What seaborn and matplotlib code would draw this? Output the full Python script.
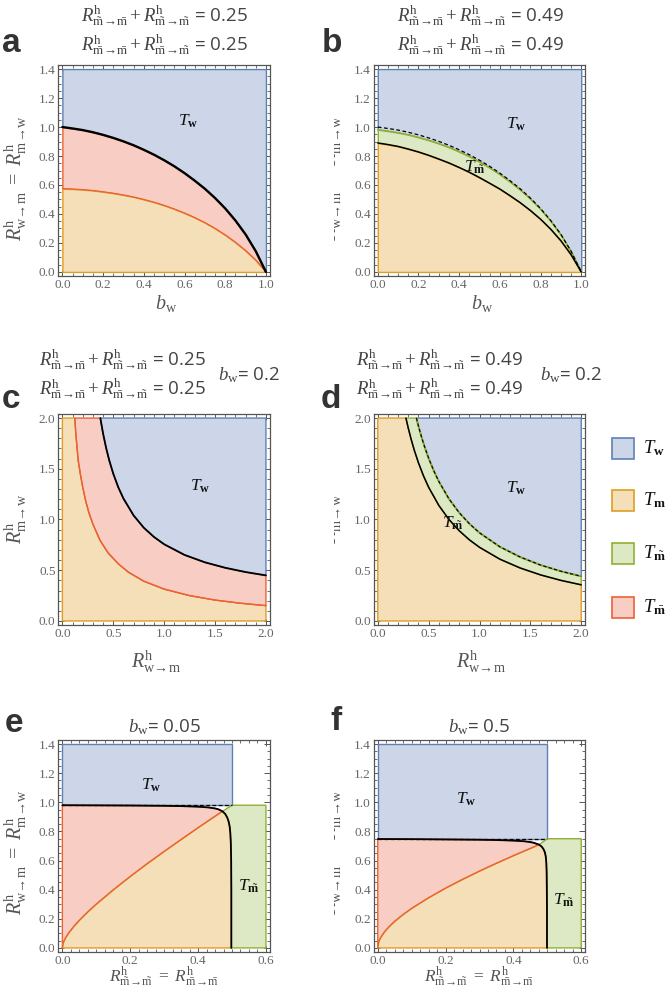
import matplotlib
matplotlib.use("Agg")
import matplotlib.pyplot as plt
import seaborn as sns
from matplotlib.patches import Rectangle
from matplotlib.ticker import MultipleLocator, FormatStrFormatter
from matplotlib.transforms import Bbox, TransformedBbox

sns.set_theme(style="ticks")
plt.rcParams["font.family"] = ["Liberation Serif", "DejaVu Serif"]
plt.rcParams["mathtext.fontset"] = "custom"
plt.rcParams["mathtext.rm"] = "Liberation Serif"
plt.rcParams["mathtext.it"] = "Liberation Serif:italic"
plt.rcParams["mathtext.bf"] = "Liberation Serif:bold"

# region colours (fill, edge)
BLUE_F, BLUE_E = "#cdd6e8", "#5e81b5"
ORANGE_F, ORANGE_E = "#f5dfb8", "#e19c24"
GREEN_F, GREEN_E = "#dde8c4", "#8fb032"
RED_F, RED_E = "#f8cdc3", "#eb6235"

# -----------------------------
# data
# -----------------------------
sum_ac = 0.25
sum_bd = 0.49
bw_cd = 0.2
bw_e = 0.05
bw_f = 0.5

# panel a / b : x = b_w
ab_x = [0.0, 0.05, 0.1, 0.15, 0.2, 0.25, 0.3, 0.35, 0.4, 0.45, 0.5,
        0.55, 0.6, 0.65, 0.7, 0.75, 0.8, 0.85, 0.9, 0.95, 1.0]
a_black = [1.0, 0.99, 0.979, 0.964, 0.946, 0.925, 0.901, 0.874, 0.843, 0.809, 0.771,
           0.729, 0.682, 0.630, 0.574, 0.510, 0.438, 0.355, 0.259, 0.143, 0.0]
a_red = [0.575, 0.572, 0.568, 0.562, 0.553, 0.543, 0.531, 0.517, 0.500, 0.481, 0.459,
         0.434, 0.406, 0.375, 0.340, 0.300, 0.255, 0.204, 0.147, 0.081, 0.0]
b_dash = [1.0, 0.99, 0.979, 0.964, 0.946, 0.925, 0.901, 0.874, 0.843, 0.809, 0.771,
          0.729, 0.682, 0.630, 0.574, 0.510, 0.438, 0.355, 0.259, 0.143, 0.0]
b_green = [0.982, 0.972, 0.961, 0.947, 0.929, 0.909, 0.886, 0.860, 0.830, 0.797, 0.760,
           0.719, 0.673, 0.622, 0.567, 0.504, 0.433, 0.351, 0.256, 0.141, 0.0]
b_black = [0.890, 0.879, 0.866, 0.848, 0.828, 0.805, 0.779, 0.752, 0.721, 0.688, 0.651,
           0.612, 0.572, 0.526, 0.478, 0.424, 0.364, 0.295, 0.215, 0.119, 0.0]

# panel c : x = R_w->m
c_black_x = [0.373, 0.4, 0.43, 0.46, 0.5, 0.55, 0.6, 0.7, 0.8, 0.9, 1.0, 1.2, 1.4, 1.6, 1.8, 2.0]
c_black_y = [2.0, 1.847, 1.705, 1.585, 1.452, 1.316, 1.207, 1.040, 0.919, 0.828, 0.756,
             0.651, 0.578, 0.524, 0.482, 0.449]
c_red_x = [0.123, 0.13, 0.14, 0.156, 0.18, 0.2, 0.23, 0.26, 0.3, 0.37, 0.45, 0.55, 0.65,
           0.8, 1.0, 1.25, 1.5, 1.75, 2.0]
c_red_y = [2.0, 1.88, 1.76, 1.58, 1.43, 1.32, 1.18, 1.07, 0.955, 0.795, 0.67, 0.563, 0.48,
           0.392, 0.314, 0.25, 0.206, 0.175, 0.151]

# panel d
d_dash_x = [0.38, 0.4, 0.43, 0.46, 0.5, 0.55, 0.6, 0.7, 0.8, 0.9, 1.0, 1.2, 1.4, 1.6, 1.8, 2.0]
d_dash_y = [2.0, 1.921, 1.814, 1.718, 1.604, 1.482, 1.376, 1.203, 1.068, 0.959, 0.869,
            0.731, 0.630, 0.551, 0.490, 0.440]
d_black_x = [0.277, 0.3, 0.33, 0.36, 0.4, 0.45, 0.5, 0.6, 0.7, 0.8, 0.9, 1.0, 1.2, 1.4, 1.6, 1.8, 2.0]
d_black_y = [2.0, 1.900, 1.784, 1.680, 1.559, 1.429, 1.318, 1.139, 1.000, 0.890, 0.800,
             0.726, 0.609, 0.522, 0.454, 0.400, 0.356]

# panel e / f : x = R_m~->m~ = R_m-->m-
ef_wall = 0.5
e_level = 0.98
f_level = 0.75
ef_red_x = [0.0, 0.0025, 0.005, 0.01, 0.02, 0.035, 0.05, 0.075, 0.1, 0.15, 0.2,
            0.25, 0.3, 0.35, 0.4, 0.44]
e_red_y = [0.0, 0.032, 0.047, 0.071, 0.106, 0.150, 0.189, 0.247, 0.300, 0.398, 0.490,
           0.578, 0.662, 0.744, 0.825, 0.888]
f_red_y = [0.0, 0.037, 0.053, 0.076, 0.110, 0.149, 0.182, 0.229, 0.271, 0.344, 0.410,
           0.470, 0.527, 0.581, 0.633, 0.673]
e_meet = (0.472, 0.938)
f_meet = (0.476, 0.709)
e_black_x = [0.0, 0.1, 0.2, 0.3, 0.35, 0.4, 0.43, 0.45, 0.46, 0.472, 0.48, 0.486, 0.49,
             0.493, 0.495, 0.4965, 0.4975, 0.498, 0.498]
e_black_y = [0.98, 0.979, 0.978, 0.976, 0.974, 0.970, 0.965, 0.958, 0.952, 0.938, 0.92,
             0.895, 0.868, 0.835, 0.79, 0.72, 0.6, 0.4, 0.0]
f_black_x = [0.0, 0.1, 0.2, 0.3, 0.35, 0.4, 0.43, 0.45, 0.46, 0.476, 0.484, 0.489, 0.493,
             0.4955, 0.497, 0.498, 0.4985, 0.499, 0.499]
f_black_y = [0.748, 0.747, 0.745, 0.743, 0.741, 0.737, 0.733, 0.727, 0.722, 0.709, 0.694,
             0.677, 0.655, 0.625, 0.585, 0.52, 0.42, 0.25, 0.0]

W, H = 668, 992
fig = plt.figure(figsize=(W / 100, H / 100), dpi=100)


def axes_px(left, top, right, bottom):
    return fig.add_axes([left / W, 1 - bottom / H, (right - left) / W, (bottom - top) / H])


def put(x, y, s, **kw):
    kw.setdefault("ha", "center")
    kw.setdefault("va", "center")
    return fig.text(x / W, 1 - y / H, s, **kw)


def curve(ax, xs, ys, color, lw, ls="-"):
    sns.lineplot(x=xs, y=ys, ax=ax, color=color, linewidth=lw, linestyle=ls,
                 sort=False, estimator=None, legend=False)


def frame(ax, xmax, ymax, xstep, xminor, ystep, yminor):
    ax.set_xlim(-0.02 * xmax, 1.02 * xmax)
    ax.set_ylim(-0.02 * ymax, 1.02 * ymax)
    ax.xaxis.set_major_locator(MultipleLocator(xstep))
    ax.xaxis.set_minor_locator(MultipleLocator(xminor))
    ax.yaxis.set_major_locator(MultipleLocator(ystep))
    ax.yaxis.set_minor_locator(MultipleLocator(yminor))
    ax.xaxis.set_major_formatter(FormatStrFormatter("%.1f"))
    ax.yaxis.set_major_formatter(FormatStrFormatter("%.1f"))
    ax.tick_params(which="both", direction="in", top=True, right=True,
                   color="#555555", labelcolor="#666666", labelsize=9.5, pad=2)
    ax.tick_params(which="major", length=4, width=0.7)
    ax.tick_params(which="minor", length=2, width=0.6)
    for s in ax.spines.values():
        s.set_color("#555555")
        s.set_linewidth(0.9)
    ax.set_xlabel("")
    ax.set_ylabel("")


def region(ax, xs, ys, fc, ec):
    ax.fill(xs, ys, facecolor=fc, edgecolor=ec, linewidth=1.0)


def tlabel(ax, x, y, sub):
    ax.text(x, y, r"$T_{%s}$" % sub, fontsize=12.5, ha="center", va="center", color="#111111")


TW = r"\mathbf{w}"
TM = r"\mathbf{m}"
TMT = r"\tilde{\mathbf{m}}"
TMB = r"\bar{\mathbf{m}}"

# -----------------------------
# a
# -----------------------------
ax = axes_px(58.3, 65, 270, 276)
ax.fill_between(ab_x, a_black, 1.4, facecolor=BLUE_F, edgecolor=BLUE_E, linewidth=1.0)
ax.fill_between(ab_x, a_red, a_black, facecolor=RED_F, edgecolor=RED_E, linewidth=1.0)
ax.fill_between(ab_x, 0, a_red, facecolor=ORANGE_F, edgecolor=ORANGE_E, linewidth=1.0)
curve(ax, ab_x, a_red, RED_E, 0.9)
curve(ax, ab_x, a_black, "black", 1.7)
tlabel(ax, 0.62, 1.04, TW)
frame(ax, 1.0, 1.4, 0.2, 0.05, 0.2, 0.05)

# -----------------------------
# b
# -----------------------------
ax = axes_px(373.7, 65, 585.3, 276)
ax.fill_between(ab_x, b_green, 1.4, facecolor=BLUE_F, edgecolor=BLUE_E, linewidth=1.0)
ax.fill_between(ab_x, b_black, b_green, facecolor=GREEN_F, edgecolor=GREEN_E, linewidth=1.0)
ax.fill_between(ab_x, 0, b_black, facecolor=ORANGE_F, edgecolor=ORANGE_E, linewidth=1.0)
curve(ax, ab_x, b_green, GREEN_E, 1.0)
curve(ax, ab_x, b_dash, "black", 0.9, (0, (3, 2)))
curve(ax, ab_x, b_black, "black", 1.1)
tlabel(ax, 0.68, 1.02, TW)
tlabel(ax, 0.475, 0.72, TMT)
frame(ax, 1.0, 1.4, 0.2, 0.05, 0.2, 0.05)

# -----------------------------
# c
# -----------------------------
ax = axes_px(58.3, 414, 270, 625)
region(ax, [0.0, 0.0] + c_red_x + [2.0], [0.0, 2.0] + c_red_y + [0.0], ORANGE_F, ORANGE_E)
region(ax, c_red_x + c_black_x[::-1], c_red_y + c_black_y[::-1], RED_F, RED_E)
region(ax, c_black_x + [2.0], c_black_y + [2.0], BLUE_F, BLUE_E)
curve(ax, c_red_x, c_red_y, RED_E, 0.9)
curve(ax, c_black_x, c_black_y, "black", 1.3)
tlabel(ax, 1.35, 1.33, TW)
frame(ax, 2.0, 2.0, 0.5, 0.1, 0.5, 0.1)

# -----------------------------
# d
# -----------------------------
ax = axes_px(373.7, 414, 585.3, 625)
region(ax, [0.0, 0.0] + d_black_x + [2.0], [0.0, 2.0] + d_black_y + [0.0], ORANGE_F, ORANGE_E)
region(ax, d_black_x + d_dash_x[::-1], d_black_y + d_dash_y[::-1], GREEN_F, GREEN_E)
region(ax, d_dash_x + [2.0], d_dash_y + [2.0], BLUE_F, BLUE_E)
curve(ax, d_dash_x, d_dash_y, GREEN_E, 1.4)
curve(ax, d_dash_x, d_dash_y, "black", 0.8, (0, (3, 2)))
curve(ax, d_black_x, d_black_y, "black", 1.1)
tlabel(ax, 1.36, 1.31, TW)
tlabel(ax, 0.74, 0.96, TMT)
frame(ax, 2.0, 2.0, 0.5, 0.1, 0.5, 0.1)


# -----------------------------
# e / f
# -----------------------------
def wall_panel(ax, level, red_y, meet, black_x, black_y):
    red_x = ef_red_x + [meet[0]]
    red_y = red_y + [meet[1]]
    k = black_x.index(meet[0])
    region(ax, [0.0, ef_wall, ef_wall, 0.0], [level, level, 1.4, 1.4], BLUE_F, BLUE_E)
    region(ax, [ef_wall, 0.6, 0.6, ef_wall] + black_x[k:],
           [0.0, 0.0, level, level] + black_y[k:], GREEN_F, GREEN_E)
    region(ax, red_x + black_x[:k][::-1], red_y + black_y[:k][::-1], RED_F, RED_E)
    region(ax, red_x + black_x[k + 1:], red_y + black_y[k + 1:], ORANGE_F, ORANGE_E)
    curve(ax, red_x, red_y, RED_E, 0.9)
    curve(ax, [0.0, ef_wall], [level, level], "black", 0.9, (0, (3, 2)))
    curve(ax, black_x, black_y, "black", 1.3)
    frame(ax, 0.6, 1.4, 0.2, 0.025, 0.2, 0.05)


ax = axes_px(58.3, 740, 270, 952)
wall_panel(ax, e_level, e_red_y, e_meet, e_black_x, e_black_y)
tlabel(ax, 0.263, 1.12, TW)
tlabel(ax, 0.55, 0.42, TMT)

ax = axes_px(373.7, 740, 585.3, 952)
wall_panel(ax, f_level, f_red_y, f_meet, f_black_x, f_black_y)
tlabel(ax, 0.261, 1.02, TW)
tlabel(ax, 0.549, 0.33, TMT)

# -----------------------------
# titles, axis labels, letters
# -----------------------------
R = r"R^{\mathrm{h}}_{%s\!\rightarrow\!%s}"
mt, mb, w, m = r"\tilde{\mathrm{m}}", r"\bar{\mathrm{m}}", r"\mathrm{w}", r"\mathrm{m}"
line1 = "$" + R % (mt, mb) + "+" + R % (mt, mt) + "$ = %s"
line2 = "$" + R % (mb, mb) + "+" + R % (mb, mt) + "$ = %s"
sans = dict(family=["Open Sans", "DejaVu Sans"], color="#444444", fontsize=13.5)

for cx, val in [(164, sum_ac), (480, sum_bd)]:
    put(cx, 16, line1 % val, **sans)
    put(cx, 45, line2 % val, **sans)
for cx, bx, val in [(122, 249, sum_ac), (439, 571, sum_bd)]:
    put(cx, 360, line1 % val, **sans)
    put(cx, 389, line2 % val, **sans)
    put(bx, 375, r"$b_{\mathrm{w}}$= %s" % bw_cd, **sans)
put(164, 727, r"$b_{\mathrm{w}}$= %s" % bw_e, **sans)
put(479, 727, r"$b_{\mathrm{w}}$= %s" % bw_f, **sans)

lab = dict(fontsize=14.5, color="#555555")
y_ab = "$" + R % (w, m) + r"\ =\ " + R % (m, w) + "$"
y_cd = "$" + R % (m, w) + "$"
x_cd = "$" + R % (w, m) + "$"
x_ef = "$" + R % (mt, mt) + r"\ =\ " + R % (mb, mb) + "$"
bw_lab = r"$b_{\mathrm{w}}$"

put(166, 304, bw_lab, **lab)
put(482, 304, bw_lab, **lab)
put(156, 662, x_cd, **lab)
put(481, 662, x_cd, **lab)
put(164, 977, x_ef, fontsize=12.5, color="#555555")
put(479, 977, x_ef, fontsize=12.5, color="#555555")

clip = TransformedBbox(Bbox([[334 / W, 0], [1, 1]]), fig.transFigure)
for ypos, s in [(178, y_ab), (519, y_cd), (852, y_ab)]:
    put(16, ypos, s, rotation=90, **lab)
    t = put(331, ypos, s, rotation=90, **lab)
    t.set_clip_box(clip)
    t.set_clip_on(True)

letter = dict(family=["Liberation Sans", "DejaVu Sans"], fontweight="bold", fontsize=24, color="#333333")
for x, y, s in [(11, 43, "a"), (332, 43, "b"), (11, 400, "c"), (331, 400, "d"), (14, 724, "e"), (336, 722, "f")]:
    put(x, y, s, **letter)

# legend
for cy, fc, ec, sub in [(448, BLUE_F, BLUE_E, TW), (500, ORANGE_F, ORANGE_E, TM),
                        (553, GREEN_F, GREEN_E, TMT), (607, RED_F, RED_E, TMB)]:
    fig.add_artist(Rectangle((612 / W, 1 - (cy + 10.5) / H), 22 / W, 21 / H,
                             transform=fig.transFigure, facecolor=fc, edgecolor=ec, linewidth=1.2))
    put(643, cy, r"$T_{%s}$" % sub, ha="left", fontsize=13.5, color="#111111")

fig.savefig("out.png", dpi=100)
